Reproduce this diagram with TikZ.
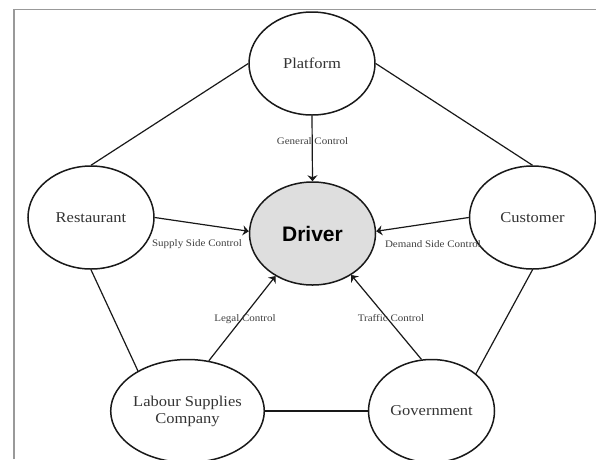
\documentclass[tikz,border=0pt]{standalone}
\usepackage{fontspec}
\setmainfont{Liberation Serif}
\newfontfamily\labelfont[FakeStretch=1.1]{Liberation Serif}
\newfontfamily\drvfont{Liberation Sans}
\usetikzlibrary{arrows.meta,shapes.geometric}

\begin{document}
\begin{tikzpicture}[x=1pt,y=-1pt,
  party/.style={ellipse, draw=black!90, line width=1.5pt, fill=white,
    minimum width=126pt, minimum height=103pt, inner sep=0pt, align=center,
    text=black!80, font=\labelfont\fontsize{15}{17}\selectfont},
  hub/.style={party, fill=black!13, text=black,
    font=\drvfont\bfseries\fontsize{21}{24}\selectfont},
  link/.style={draw=black!90, line width=1.2pt},
  ctrl/.style={link, -{Stealth[length=6pt,width=10pt]}},
  tag/.style={inner sep=0pt, text=black!75,
    font=\labelfont\fontsize{10}{12}\selectfont}]

  % page area and frame edges
  \useasboundingbox (0,0) rectangle (596,459);
  \fill[white] (0,0) rectangle (596,459);
  \draw[black!40, line width=1.2pt] (14,459) -- (14,9.3) -- (596,9.3);

  % actors
  \node[party] (plat) at (312,63.5)   {Platform};
  \node[party] (rest) at (91,217.5)   {Restaurant};
  \node[party] (cust) at (532.5,217.5){Customer};
  \node[party] (lab)  at (187.5,411)  {Labour Supplies\\Company};
  \node[party] (gov)  at (431.5,411)  {Government};
  \node[hub]   (drv)  at (312.5,233.5){Driver};

  % outer ring
  \draw[link] (plat.west) -- (rest.north);
  \draw[link] (plat.east) -- (cust.north);
  \draw[link] (rest.south) -- (lab.141);
  \draw[link] (cust.south) -- (gov.40);
  \draw[link] (lab.east) -- (gov.west);

  % controls acting on the driver
  \draw[ctrl] (plat.south) -- (drv.north);
  \draw[ctrl] (rest.east) -- (drv.178);
  \draw[ctrl] (cust.west) -- (drv.2);
  \draw[ctrl] (lab.67) -- (drv.229);
  \draw[ctrl] (gov.101) -- (drv.313);

  % control labels
  \node[tag] (tgen) at (312.5,140.7) {General Control};
  \node[tag] (tsup) at (197,244.3)   {Supply Side Control};
  \node[tag] (tdem) at (433,244.3)   {Demand Side Control};
  \node[tag] (tleg) at (245,319)     {Legal Control};
  \node[tag] (ttra) at (391,317.7)   {Traffic Control};
\end{tikzpicture}
\end{document}
